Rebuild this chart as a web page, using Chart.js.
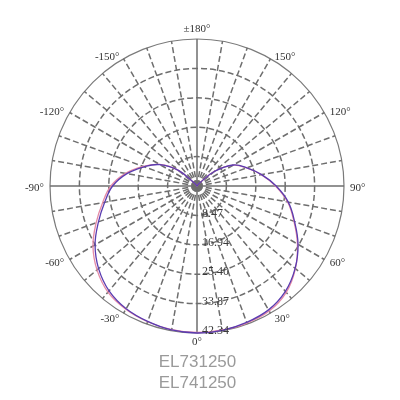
<!DOCTYPE html>
<html>
<head>
<meta charset="utf-8">
<script src="https://cdn.jsdelivr.net/npm/chart.js@4/dist/chart.umd.min.js"></script>
<style>
  html, body { margin: 0; padding: 0; background: #ffffff; }
  #wrap { width: 400px; height: 400px; position: relative; }
</style>
</head>
<body>
<div id="wrap"><canvas id="c"></canvas></div>
<script>
// Angle labels: index i corresponds to -10*i degrees (0° at bottom, going left/clockwise)
const angleLabels = ['0°','','','-30°','','','-60°','','','-90°','','','-120°','','','-150°','','',
                     '±180°','','','150°','','','120°','','','90°','','','60°','','','30°','',''];
const seriesNames = ['EL731250', 'EL741250'];
const seriesA = [42.34, 42.1, 41.5, 40.8, 39.4, 37.0, 33.9, 30.2, 27.0, 24.3, 20.5, 16.2, 12.3, 7.0, 1.0, 0, 0, 0,
                 0, 0, 0, 0, 1.0, 6.5, 12.1, 15.3, 18.9, 22.8, 26.7, 29.9, 33.6, 36.9, 39.6, 41.2, 41.8, 42.2];
const seriesB = [42.2, 42.0, 41.6, 41.0, 39.9, 37.6, 34.6, 30.9, 27.6, 24.8, 20.9, 16.5, 12.4, 7.0, 1.0, 0, 0, 0,
                 0, 0, 0, 0, 1.0, 6.6, 12.0, 15.2, 18.8, 22.6, 26.5, 29.7, 33.4, 37.0, 40.0, 41.6, 42.0, 42.1];
const radialTickLabels = ['8.47', '16.94', '25.40', '33.87', '42.34'];
const radialMax = 42.34;
const radialStep = 8.468;

const SERIF = '"Liberation Serif", "DejaVu Serif", serif';

const labelPlugin = {
  id: 'labelPlugin',
  afterDraw(chart) {
    const scale = chart.scales.r;
    const ctx = chart.ctx;
    ctx.save();
    // radial value labels along the 0° axis
    ctx.font = '12px ' + SERIF;
    ctx.fillStyle = '#3a3a3a';
    ctx.textAlign = 'left';
    ctx.textBaseline = 'middle';
    scale.ticks.forEach((t, i) => {
      if (i === 0) return;
      const d = scale.getDistanceFromCenterForValue(t.value);
      const p = scale.getPointPosition(0, d);
      ctx.fillText(t.label, p.x + 5, p.y - 2);
    });
    // angle labels around the outer circle
    ctx.font = '11px ' + SERIF;
    ctx.fillStyle = '#333333';
    const labels = chart.data.labels;
    const outer = scale.getDistanceFromCenterForValue(scale.max) + 4;
    labels.forEach((lab, i) => {
      if (!lab) return;
      const p = scale.getPointPosition(i, outer);
      const dx = p.x - scale.xCenter;
      let y = p.y + 2;
      if (Math.abs(dx) < 1) {
        ctx.textAlign = 'center';
        y = p.y < scale.yCenter ? p.y - 6 : p.y + 5;
      } else {
        ctx.textAlign = dx > 0 ? 'left' : 'right';
      }
      ctx.fillText(lab, p.x + (dx > 1 ? 2 : (dx < -1 ? -2 : 0)), y);
    });
    ctx.restore();
  }
};

new Chart(document.getElementById('c'), {
  type: 'radar',
  data: {
    labels: angleLabels,
    datasets: [
      { label: seriesNames[0], data: seriesA, borderColor: '#5a3cb0', borderWidth: 1.3,
        fill: false, pointRadius: 0, tension: 0.4 },
      { label: seriesNames[1], data: seriesB, borderColor: '#e58aa6', borderWidth: 1.3,
        fill: false, pointRadius: 0, tension: 0.4 }
    ]
  },
  options: {
    responsive: true,
    maintainAspectRatio: false,
    animation: false,
    layout: { padding: { top: 39, right: 5, left: 0, bottom: 0 } },
    plugins: {
      legend: { display: false },
      tooltip: { enabled: false },
      title: {
        display: true,
        position: 'bottom',
        text: seriesNames,
        color: '#9a9a9a',
        font: { family: '"Liberation Sans", Arial, sans-serif', size: 17, weight: 'normal', lineHeight: 1.25 },
        padding: { top: 17.5, bottom: 6 }
      }
    },
    scales: {
      r: {
        min: 0,
        max: radialMax,
        startAngle: 180,
        ticks: {
          display: false,
          stepSize: radialStep,
          callback: (v, i) => (i === 0 ? '' : radialTickLabels[i - 1])
        },
        grid: {
          circular: true,
          color: (c) => (c.index === 5 ? '#7a7a7a' : '#6e6e6e'),
          lineWidth: (c) => (c.index === 5 ? 1.2 : 1.5)
        },
        border: {
          dash: (c) => (c.index === 5 ? [] : [6, 3])
        },
        angleLines: {
          color: '#6e6e6e',
          lineWidth: 1.5,
          borderDash: (c) => (c.index % 9 === 0 ? [] : [6, 3])
        },
        pointLabels: { display: false }
      }
    }
  },
  plugins: [labelPlugin]
});
</script>
</body>
</html>
